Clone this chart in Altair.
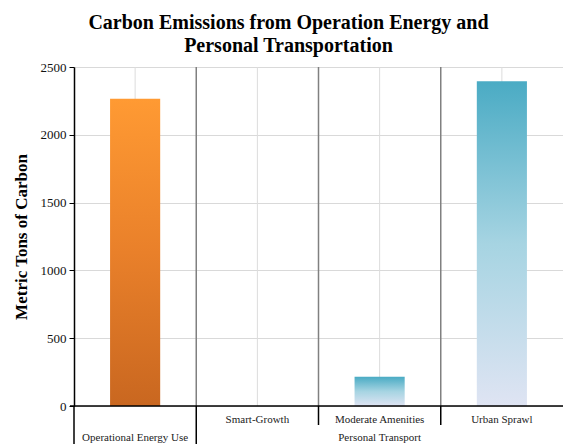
import altair as alt
import pandas as pd

# ---- data ----
categories = ["Operational Energy Use", "Smart-Growth", "Moderate Amenities", "Urban Sprawl"]
groups = ["Operational Energy Use", "Personal Transport", "Personal Transport", "Personal Transport"]
values = [2265, 0, 215, 2395]
y_ticks = [0, 500, 1000, 1500, 2000, 2500]

group_labels = ["Operational Energy Use", "Personal Transport"]
group_anchor = ["Operational Energy Use", "Moderate Amenities"]  # category under which group label sits

df = pd.DataFrame({"cat": categories, "grp": groups, "val": values})
df["is_group_start"] = [i == 0 or groups[i] != groups[i - 1] for i in range(len(groups))]
df["sub_label"] = [c if g != c else "" for c, g in zip(categories, groups)]
gl = pd.DataFrame({"cat": group_anchor, "label": group_labels})

W, H = 489, 339
FONT = "Liberation Serif"

xscale = alt.Scale(domain=categories, paddingInner=0, paddingOuter=0)
xenc = alt.X("cat:N", scale=xscale, axis=None, sort=categories)
yscale = alt.Scale(domain=[0, 2500], nice=False)

base = alt.Chart(df)

vgrid = base.mark_rule(color="#dcdcdc", strokeWidth=1).encode(
    x=xenc, y=alt.value(0), y2=alt.value(H)
)

bars_y = alt.Y(
    "val:Q",
    scale=yscale,
    axis=alt.Axis(
        title="Metric Tons of Carbon",
        values=y_ticks,
        format="d",
        grid=True,
        gridColor="#d9d9d9",
        domainColor="black",
        domainWidth=1.5,
        tickColor="black",
        tickSize=5,
        labelPadding=3,
        labelFont=FONT,
        labelFontSize=13,
        labelColor="#111",
        titleFont=FONT,
        titleFontSize=17,
        titleFontWeight="bold",
        titleColor="black",
        titlePadding=10,
    ),
)

orange = alt.LinearGradient(
    gradient="linear",
    x1=0, x2=0, y1=0, y2=1,
    stops=[
        alt.GradientStop(color="#FF9A33", offset=0),
        alt.GradientStop(color="#E9802A", offset=0.5),
        alt.GradientStop(color="#C96720", offset=1),
    ],
)
blue = alt.LinearGradient(
    gradient="linear",
    x1=0, x2=0, y1=0, y2=1,
    stops=[
        alt.GradientStop(color="#4AABC4", offset=0),
        alt.GradientStop(color="#A6D4E2", offset=0.5),
        alt.GradientStop(color="#DFE4F3", offset=1),
    ],
)

bar_op = base.transform_filter(alt.datum.grp == "Operational Energy Use").mark_bar(
    color=orange, width=alt.RelativeBandSize(0.41)
).encode(x=xenc, y=bars_y)

bar_pt = base.transform_filter(alt.datum.grp != "Operational Energy Use").mark_bar(
    color=blue, width=alt.RelativeBandSize(0.41)
).encode(x=xenc, y=alt.Y("val:Q", scale=yscale))

xstart = alt.X("cat:N", scale=xscale, axis=None, sort=categories, bandPosition=0)

sep_inner = base.transform_filter(alt.datum.cat != categories[0]).mark_rule(
    color="#808080", strokeWidth=1.5
).encode(x=xstart, y=alt.value(0), y2=alt.value(H))

sep_long = base.transform_filter(alt.datum.is_group_start).mark_rule(
    color="black", strokeWidth=1.5
).encode(x=xstart, y=alt.value(H), y2=alt.value(H + 40))

sep_short = base.transform_filter(~alt.datum.is_group_start).mark_rule(
    color="black", strokeWidth=1.5
).encode(x=xstart, y=alt.value(H), y2=alt.value(H + 19))

xaxis_line = alt.Chart(pd.DataFrame({"v": [0]})).mark_rule(
    color="black", strokeWidth=1.5
).encode(y=alt.Y("v:Q", scale=yscale), x=alt.value(-4), x2=alt.value(W))

sub_text = base.mark_text(
    font=FONT, fontSize=11, color="#222", baseline="middle"
).encode(x=xenc, y=alt.value(H + 14), text="sub_label:N")

grp_text = alt.Chart(gl).mark_text(
    font=FONT, fontSize=11, color="#222", baseline="middle"
).encode(x=xenc, y=alt.value(H + 32), text="label:N")

chart = alt.layer(
    vgrid, sep_inner, bar_op, bar_pt, xaxis_line, sep_long, sep_short, sub_text, grp_text
).properties(
    width=W,
    height=H,
    title=alt.TitleParams(
        text=["Carbon Emissions from Operation Energy and", "Personal Transportation"],
        font=FONT,
        fontSize=20,
        fontWeight="bold",
        color="black",
        anchor="middle",
        dx=-30,
        lineHeight=23,
        offset=5,
    ),
    autosize=alt.AutoSizeParams(type="none"),
    padding={"left": 74, "top": 67, "right": 0, "bottom": 38},
).configure_view(stroke=None).configure(background="white")

chart.save("out.html", embed_options={"renderer": "svg", "actions": False})
